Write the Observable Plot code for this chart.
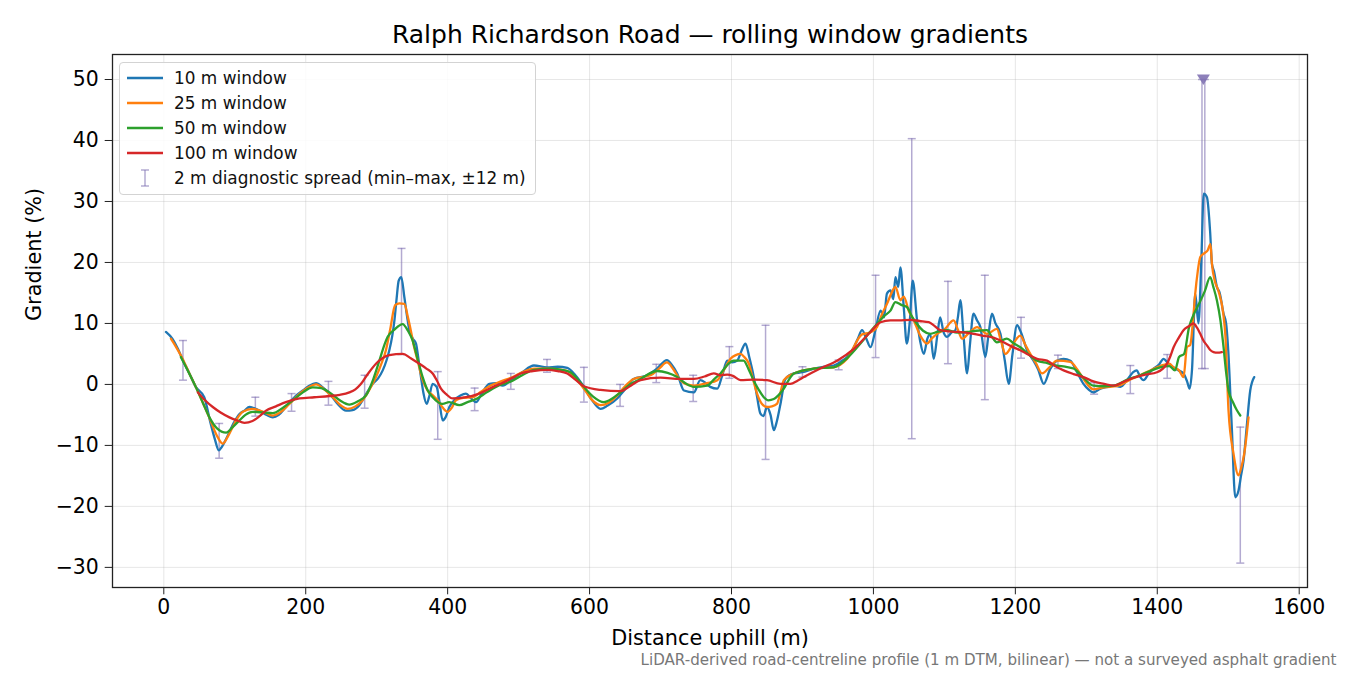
<!DOCTYPE html>
<html>
<head>
<meta charset="utf-8">
<script src="https://cdn.jsdelivr.net/npm/d3@7"></script>
<script src="https://cdn.jsdelivr.net/npm/@observablehq/plot@0.6"></script>
<style>
  html, body { margin: 0; padding: 0; background: #fff; }
  #wrap { position: relative; width: 1350px; height: 675px; font-family: "DejaVu Sans", sans-serif; }
  #wrap > svg { position: absolute; left: 0; top: 0; }
  #legend { position: absolute; left: 119px; top: 62px; width: 415px; height: 131px;
            border: 1px solid #d3d3d3; border-radius: 4px; background: rgba(255,255,255,0.85);
            font-size: 16.9px; color: #111; }
  .row { position: absolute; left: 0; height: 22px; line-height: 22px; white-space: nowrap; }
  .row svg.sw { position: absolute; left: 6px; top: 0; width: 38px; height: 22px; }
  .row .lab { position: absolute; left: 54px; top: 0; }
</style>
</head>
<body>
<div id="wrap"><div id="legend"></div></div>
<script>
// ---------- data ----------
const seriesNames = ["10 m window", "25 m window", "50 m window", "100 m window"];
const seriesColors = ["#1f77b4", "#ff7f0e", "#2ca02c", "#d62728"];
const spreadLabel = "2 m diagnostic spread (min–max, ±12 m)";

const w10 = [[3,8.6],[12,7.5],[20,5.8],[27,3.9],[36,1.8],[45,-0.4],[57,-2.1],[66,-6.4],[72,-9.0],[77.5,-10.8],[82,-10.2],[88,-8.9],[99,-6.2],[107,-4.8],[113.6,-4.3],[120.7,-3.7],[127,-3.9],[134.7,-4.3],[145,-5.0],[153.5,-5.4],[162,-5.0],[172,-3.7],[185,-2.0],[195.8,-1.0],[205,-0.2],[214.5,0.2],[224,-0.5],[233.4,-1.5],[245,-3.2],[256.8,-4.3],[266,-4.2],[275.6,-3.4],[285,-1.6],[294.4,0.1],[302,1.0],[308.5,2.3],[314,4.0],[317.8,5.6],[322,8.0],[325,10.5],[328,14.0],[331,17.0],[334.7,17.6],[339,14.3],[343,11.0],[346,8.9],[351,7.5],[355.4,6.7],[359,4.0],[362.4,1.2],[366,-1.5],[370.4,-3.2],[374,-2.0],[378.9,0.1],[384.5,-0.4],[388,-2.5],[393,-5.9],[397,-5.4],[402.4,-3.7],[410,-2.5],[418,-1.8],[425.8,-1.5],[433,-2.3],[440,-2.9],[448,-1.5],[458.7,0.1],[468,0.2],[477.5,-0.2],[491.5,0.9],[505,2.0],[521.6,3.1],[540,2.8],[555,2.9],[568.6,2.7],[580,1.5],[592,-0.4],[603,-2.5],[615.5,-4.0],[625,-3.5],[639,-2.3],[650,-0.8],[662,0.9],[681,1.5],[695,2.6],[709,4.0],[716,3.2],[723.5,1.8],[733,-1.0],[747,-1.3],[756,0.7],[763,0.3],[770,-0.4],[780,-0.7],[787,1.5],[794,3.9],[801,3.6],[808,3.9],[814,5.5],[819.7,6.7],[825,4.5],[831.4,1.2],[836,-2.0],[840.8,-4.8],[845,-5.2],[850,-3.7],[855,-5.0],[859.6,-7.5],[864,-6.0],[869,-3.2],[876,0.9],[887.8,1.8],[900,2.0],[916,2.6],[930,2.9],[944,3.1],[955,3.8],[963,4.5],[972,6.0],[978,7.5],[984,8.9],[990,7.5],[995.8,6.1],[1003,9.0],[1010,12.1],[1015,11.0],[1019,14.9],[1024,15.4],[1028,14.0],[1031,17.6],[1035,16.0],[1038,19.2],[1042.7,12.7],[1047,6.7],[1051,10.0],[1055.4,17.0],[1061.5,10.5],[1066,7.0],[1071,5.0],[1076,7.5],[1080,8.3],[1085,4.2],[1090,8.0],[1094,11.0],[1099,8.5],[1103.8,7.8],[1110,8.5],[1115.5,8.9],[1119,11.0],[1122.5,13.8],[1127,8.0],[1132,1.8],[1136,6.5],[1141,11.6],[1146,10.5],[1150.7,9.4],[1157.7,4.5],[1162,8.0],[1167,11.6],[1172,10.0],[1179,8.3],[1185,4.0],[1190.6,0.1],[1196,5.0],[1202.4,9.7],[1208,8.5],[1216.5,5.6],[1225,4.0],[1232,2.5],[1240,0.1],[1249,2.5],[1258.7,3.9],[1268,4.2],[1277.5,3.9],[1287,2.0],[1296,0.1],[1303,-0.8],[1310,-1.3],[1320,-0.7],[1330,-0.4],[1338.5,-0.2],[1348,-0.4],[1358,0.8],[1366,2.0],[1371,2.3],[1376,1.2],[1380.7,0.7],[1388,1.8],[1394.8,2.6],[1402,3.2],[1408.9,4.2],[1415,3.5],[1423,2.8],[1430,2.3],[1437,1.8],[1442,0.5],[1445.5,-0.7],[1449,2.5],[1453.5,14.9],[1458,10.0],[1462,20.0],[1465.5,31.3],[1470,30.7],[1474.5,25.0],[1477,19.8],[1480,18.5],[1484,16.0],[1488,15.0],[1493.4,11.6],[1497,10.0],[1500,5.6],[1505,-7.0],[1509.9,-18.5],[1514.5,-17.4],[1518,-15.0],[1521.6,-12.5],[1526,-7.0],[1531,-1.0],[1536.6,1.2]];

const w25 = [[10,7.5],[18,6.0],[27,4.1],[36,1.8],[45,-0.4],[55,-3.0],[64,-5.4],[74,-8.2],[83,-9.7],[90,-8.6],[97,-7.0],[104,-5.5],[111,-4.5],[125,-4.0],[140,-4.5],[153.5,-5.1],[165,-4.5],[177,-3.2],[195,-1.2],[214.5,0],[226,-0.8],[238,-2.1],[250,-3.5],[259,-4.0],[270,-3.6],[280,-2.6],[290,-0.8],[299,1.2],[306,3.2],[313,5.6],[319,9.0],[326,13.0],[332,13.3],[339,13.2],[344,11.0],[348,8.9],[353,6.0],[357.7,3.9],[364,1.0],[371.8,-1.0],[379,-1.8],[386,-2.6],[393,-3.8],[400,-4.5],[406,-3.8],[411.7,-2.6],[422,-2.2],[435,-2.1],[447,-1.2],[458.7,-0.3],[475,0.5],[491.5,1.2],[505,2.0],[521.6,2.6],[540,2.6],[555,2.5],[568.6,2.2],[580,1.0],[592,-0.7],[603,-2.5],[615.5,-3.4],[627,-3.0],[639,-1.8],[650,-0.3],[662,0.9],[686,1.5],[698,2.6],[709,3.6],[718,2.5],[728,0.7],[737,0.0],[747,-0.2],[765.7,0.2],[780,0.7],[790,2.5],[798.6,4.2],[806,4.8],[812.7,5.0],[818,4.5],[824.4,3.4],[830,1.0],[836,-1.5],[843,-3.2],[850,-3.7],[857,-3.6],[864,-3.2],[869,-1.3],[873.7,0.7],[888,1.8],[916,2.6],[944,2.8],[963,4.2],[984,8.2],[995,8.5],[1005,9.4],[1012,11.5],[1019,13.2],[1028.6,15.7],[1031,16.0],[1038,13.8],[1042.7,14.4],[1050,12.0],[1056.8,10.5],[1066,8.0],[1075.6,6.7],[1082,7.5],[1089.7,8.3],[1100,9.0],[1113,10.5],[1119,9.0],[1125,7.5],[1135,8.5],[1146,9.4],[1160,8.3],[1174,9.1],[1180,7.0],[1186,5.0],[1196,6.5],[1207,8.0],[1214,6.5],[1221,5.0],[1229,3.5],[1237.6,1.8],[1248,2.8],[1258.7,3.9],[1277.5,3.7],[1287,2.5],[1296,0.9],[1310,-0.8],[1325,-0.5],[1348,-0.1],[1362,0.8],[1376,1.5],[1392,2.4],[1409,3.2],[1416.7,3.4],[1423,2.8],[1430.7,2.3],[1437,1.2],[1441.8,6.1],[1446.5,6.5],[1450,10.0],[1453.5,14.9],[1457,18.5],[1460.6,20.9],[1466,21.5],[1471,22.0],[1475,23.0],[1477,19.8],[1481,17.0],[1486,15.4],[1493,11.6],[1496,8.0],[1500.4,-4.3],[1507.5,-11.4],[1514.5,-14.9],[1518,-13.8],[1522.5,-11.4],[1528.6,-5.4]];

const w50 = [[24,4.5],[35,2.0],[45,-0.4],[55,-3.0],[64.3,-5.4],[75,-7.2],[87.8,-7.9],[97,-7.0],[106.6,-5.9],[115,-5.0],[125,-4.5],[140,-4.6],[153.5,-4.7],[168,-3.8],[181.7,-2.6],[196,-1.3],[209.9,-0.5],[222,-0.6],[233.4,-1.3],[248,-2.6],[261.5,-3.3],[273,-2.8],[285,-1.8],[295,0.8],[303.8,3.9],[310,6.2],[315.5,7.8],[325,9.0],[336.6,9.9],[344,8.8],[350.7,7.2],[358,4.0],[364.8,1.2],[372,-1.0],[378.9,-2.1],[393,-3.2],[402,-2.9],[416.5,-3.4],[428,-2.9],[440,-2.4],[455,-1.3],[468,-0.4],[491.5,0.6],[505,1.5],[521.6,2.4],[545,2.6],[560,2.4],[573,2.0],[582,1.0],[592,-0.4],[605,-2.0],[620,-2.9],[632,-2.3],[643.7,-1.3],[657,0.0],[671.8,0.9],[695,2.2],[710,1.9],[723.5,1.2],[735,0.2],[747,-0.4],[765.7,-0.2],[775,0.8],[784.5,1.8],[795,3.3],[803,3.9],[817,3.9],[824,2.5],[831,0.7],[838,-0.8],[845.5,-2.1],[852,-2.6],[859.6,-2.4],[866,-1.8],[873.7,-0.7],[881,0.8],[888,1.8],[916,2.6],[944,2.8],[963,4.3],[981.7,6.7],[993,8.3],[1005,9.9],[1015,11.2],[1024,12.1],[1031,13.5],[1040,13.0],[1047,12.7],[1055,11.0],[1061.5,9.9],[1070,8.8],[1080,8.3],[1090,8.6],[1103.8,8.9],[1118,8.5],[1132,8.6],[1145,8.8],[1160,8.9],[1167,7.8],[1174,6.9],[1188,7.5],[1197,6.8],[1207,6.1],[1218,5.0],[1230.5,3.9],[1245,3.5],[1258.7,3.1],[1270,2.9],[1282,2.6],[1295,1.2],[1310,-0.2],[1325,-0.3],[1338.5,-0.2],[1358,0.8],[1376,1.5],[1390,2.2],[1404,2.8],[1417,3.0],[1425,2.3],[1430.7,4.5],[1437.7,5.0],[1444.8,9.4],[1451.8,11.6],[1460,13.5],[1467,15.3],[1474.6,17.6],[1479,16.0],[1484,13.8],[1489,10.5],[1493.4,6.1],[1497,2.0],[1500.4,-1.0],[1507,-3.0],[1512,-4.2],[1517,-5.1]];

const w100 = [[48,-1.3],[58,-2.6],[69,-3.7],[80,-4.6],[92.5,-5.4],[103,-5.9],[113.6,-6.3],[125,-6.0],[135,-5.2],[144,-4.3],[158,-3.6],[172,-2.9],[191,-2.3],[212,-2.1],[233.4,-1.9],[248,-1.7],[261.5,-1.3],[270,-0.8],[278,0.1],[288,1.8],[299,3.4],[308,4.3],[317.8,4.8],[336.6,5.0],[348,4.3],[360,3.4],[370,2.6],[378.9,1.8],[385,0.6],[390.6,-0.7],[398,-1.6],[407,-2.3],[425.8,-2.1],[444.6,-1.5],[468,-0.2],[474.6,0.1],[490,1.0],[502.8,1.8],[520,2.2],[540,2.4],[555,2.2],[568.6,1.8],[580,0.8],[592,-0.3],[615.5,-0.9],[643.7,-1.1],[658,-0.2],[671.8,0.7],[700,1.1],[728,0.9],[747,0.9],[762,1.3],[775,1.8],[785,1.5],[794,1.6],[802,1.4],[812.7,0.7],[831.4,0.8],[850,0.7],[869,0.1],[883,0.1],[893,0.6],[902,1.2],[925,2.6],[948.8,3.9],[972,5.8],[995.8,8.6],[1010,10.2],[1024,10.5],[1036,10.5],[1052,10.6],[1065,10.4],[1078,10.2],[1086,9.6],[1094,8.9],[1106,8.7],[1118,8.6],[1130,8.5],[1141,8.3],[1153,8.0],[1165,7.8],[1175,7.4],[1183.5,6.9],[1195,6.2],[1207,5.6],[1218,4.9],[1230.5,4.2],[1244.6,3.9],[1256,3.0],[1268,2.3],[1282,1.7],[1296,1.2],[1310,0.5],[1325,0.1],[1338.5,-0.2],[1352,0.4],[1366.6,1.1],[1383,1.6],[1399.6,2.0],[1408,2.6],[1413.7,3.4],[1418,4.5],[1423,6.1],[1430,7.6],[1437,8.9],[1444,9.5],[1451,10.0],[1456,9.3],[1460.6,8.3],[1465,7.2],[1470,6.4],[1475,5.6],[1479.3,5.3],[1485,5.2],[1491,5.3]];

// 2 m diagnostic spread: position, min, max (the two bars near 1465 m run off the axis, shown clipped at 50)
const spreadX   = [27, 78, 129, 180, 232, 283, 335, 386, 438, 489, 540, 592, 643, 694, 746, 797, 848, 900, 951, 1003, 1054, 1105, 1157, 1208, 1260, 1311, 1362, 1414, 1463, 1467, 1517];
const spreadMin = [0.7, -12.1, -5.2, -4.4, -3.4, -3.9, 4.9, -9.0, -4.3, -0.8, 2.0, -2.9, -3.6, 0.3, -2.8, 1.0, -12.3, 1.2, 2.4, 4.4, -8.9, 3.4, -2.5, 4.3, 2.6, -1.6, -1.5, 1.0, 2.6, 2.6, -29.3];
const spreadMax = [7.2, -6.4, -2.1, -1.5, 0.5, 1.5, 22.3, 2.1, -0.6, 1.8, 4.1, 2.8, 0.0, 3.3, 1.5, 6.2, 9.7, 2.9, 4.0, 17.9, 40.3, 16.9, 17.9, 11.0, 4.8, 0.3, 3.1, 4.9, 50, 50, -7.0];
const clippedX = [1465];
const clippedY = [50];

const xTicks = [0, 200, 400, 600, 800, 1000, 1200, 1400, 1600];
const yTicks = [-30, -20, -10, 0, 10, 20, 30, 40, 50];

const titleText = "Ralph Richardson Road — rolling window gradients";
const xLabel = "Distance uphill (m)";
const yLabel = "Gradient (%)";
const captionText = "LiDAR-derived road-centreline profile (1 m DTM, bilinear) — not a surveyed asphalt gradient";

// ---------- build ----------
const allSeries = [w10, w25, w50, w100];
const lineData = allSeries.map(s => s.map(([x, y]) => ({x, y})));
const spread = spreadX.map((x, i) => ({x, lo: spreadMin[i], hi: spreadMax[i]}));
const clipped = clippedX.map((x, i) => ({x, y: clippedY[i]}));

const spreadColor = "#8172b3";
const capSymbol = { draw(ctx) { ctx.moveTo(-4, 0); ctx.lineTo(4, 0); } };
const triSymbol = { draw(ctx) { ctx.moveTo(-6.5, -5); ctx.lineTo(6.5, -5); ctx.lineTo(0, 5.5); ctx.closePath(); } };
const fmt = d => (d < 0 ? "\u2212" : "") + Math.abs(d);

const chart = Plot.plot({
  width: 1350,
  height: 675,
  marginLeft: 112,
  marginRight: 43,
  marginTop: 54,
  marginBottom: 88,
  style: { fontFamily: "DejaVu Sans, sans-serif", fontSize: "20.4px", background: "transparent", overflow: "visible", color: "#000" },
  x: { domain: [-72.3, 1611.7] },
  y: { domain: [-33.3, 54.1] },
  marks: [
    Plot.gridX(xTicks, { stroke: "#b0b0b0", strokeOpacity: 0.3, strokeWidth: 1 }),
    Plot.gridY(yTicks, { stroke: "#b0b0b0", strokeOpacity: 0.3, strokeWidth: 1 }),
    Plot.ruleX(spread, { x: "x", y1: "lo", y2: "hi", stroke: spreadColor, strokeOpacity: 0.6, strokeWidth: 1.5 }),
    Plot.dot(spread, { x: "x", y: "lo", symbol: capSymbol, stroke: spreadColor, strokeOpacity: 0.6, strokeWidth: 1.5, fill: "none" }),
    Plot.dot(spread, { x: "x", y: "hi", symbol: capSymbol, stroke: spreadColor, strokeOpacity: 0.6, strokeWidth: 1.5, fill: "none" }),
    ...lineData.map((d, i) => Plot.line(d, { x: "x", y: "y", stroke: seriesColors[i], strokeWidth: 2.3, strokeLinejoin: "round", curve: "monotone-x" })),
    Plot.dot(clipped, { x: "x", y: "y", symbol: triSymbol, fill: spreadColor, fillOpacity: 0.9, stroke: "none" }),
    Plot.frame({ stroke: "#222", strokeWidth: 1.3 }),
    Plot.axisX(xTicks, { tickSize: 7.3, tickPadding: 5, tickFormat: fmt, label: null, stroke: "#222", fill: "#000", fontSize: 20.4 }),
    Plot.axisY(yTicks, { tickSize: 7.3, tickPadding: 6.5, tickFormat: fmt, label: null, stroke: "#222", fill: "#000", fontSize: 20.4 }),
    Plot.text([titleText], { frameAnchor: "top", dy: -20, fontSize: 25, fill: "#000", lineAnchor: "middle" }),
    Plot.text([xLabel], { frameAnchor: "bottom", dy: 51, fontSize: 20.8, fill: "#000", lineAnchor: "middle" }),
    Plot.text([yLabel], { frameAnchor: "left", dx: -78, rotate: -90, fontSize: 20.8, fill: "#000", lineAnchor: "middle" }),
    Plot.text([captionText], { frameAnchor: "bottom-right", dx: 29, dy: 73, textAnchor: "end", fontSize: 15.1, fill: "#777", lineAnchor: "middle" })
  ]
});

const wrap = document.getElementById("wrap");
wrap.insertBefore(chart, wrap.firstChild);

// ---------- legend ----------
const legend = document.getElementById("legend");
const rowsTop = [77.5, 102.7, 127.9, 153.1, 178.3];
const labels = [...seriesNames, spreadLabel];
labels.forEach((lab, i) => {
  const row = document.createElement("div");
  row.className = "row";
  row.style.top = (rowsTop[i] - 62 - 1 - 11) + "px";
  row.style.width = "412px";
  let sw;
  if (i < 4) {
    sw = `<svg class="sw" width="38" height="22"><line x1="1" x2="37" y1="11" y2="11" stroke="${seriesColors[i]}" stroke-width="2.4"/></svg>`;
  } else {
    sw = `<svg class="sw" width="38" height="22"><g stroke="${spreadColor}" stroke-opacity="0.6" stroke-width="1.5"><line x1="19" x2="19" y1="3" y2="19"/><line x1="15" x2="23" y1="3" y2="3"/><line x1="15" x2="23" y1="19" y2="19"/></g></svg>`;
  }
  row.innerHTML = sw + `<span class="lab">${lab}</span>`;
  legend.appendChild(row);
});
</script>
</body>
</html>
